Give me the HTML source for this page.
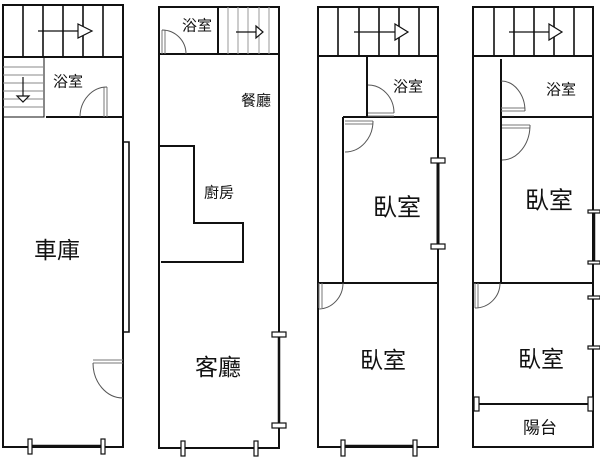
<!DOCTYPE html>
<html><head><meta charset="utf-8"><style>
html,body{margin:0;padding:0;background:#fff;width:600px;height:476px;overflow:hidden}
svg{display:block}
text{font-family:"Liberation Sans","Noto Sans CJK TC",sans-serif;fill:#111;text-anchor:middle;dominant-baseline:central}
.lf{stroke:#777;stroke-width:1}
</style></head><body>
<svg width="600" height="476" viewBox="0 0 600 476" xmlns="http://www.w3.org/2000/svg">
<g fill="none" stroke="#111" stroke-width="2">
<!-- PLAN 1 -->
<path d="M3 5 H123 V447 H3 Z"/>
<path d="M3 57 H123"/>
<path d="M23 5V57 M43 5V57 M63 5V57 M83 5V57 M103 5V57" stroke-width="1.6"/>
<path d="M3 117 H44 V57" stroke-width="1"/>
<path d="M46 117 H123"/>
<path d="M123 142 H129 V332 H123" stroke-width="1.6"/>
<path d="M30 446 H103" stroke-width="2.5"/>
</g>
<g fill="none" stroke="#888" stroke-width="1">
<path d="M3 67 H44 M3 75 H44 M3 83 H44 M3 91 H44 M3 99 H44 M3 107 H44"/>
</g>
<g fill="none" stroke="#111" stroke-width="1.2">
<path d="M38 31 H80"/><path d="M78 24 L92 31 L78 38 Z" fill="#fff"/>
<path d="M23 77 V101"/><path d="M17 96 L23 102 L29 96 Z" fill="#fff"/>
<path class="lf" d="M107 87 V117 M104 87 V117"/><path d="M80 117 A27 30 0 0 1 107 87" stroke="#555" stroke-width="1"/>
<path class="lf" d="M93 363 H123 M93 360 H123"/><path d="M93 363 A30 35 0 0 0 123 398" stroke="#555" stroke-width="1"/>
<rect x="28" y="439" width="4" height="15" fill="#fff"/><rect x="101" y="439" width="4" height="15" fill="#fff"/>
</g>
<text x="68" y="82" font-size="15">浴室</text>
<text x="57" y="250" font-size="23">車庫</text>

<!-- PLAN 2 -->
<g fill="none" stroke="#111" stroke-width="2">
<path d="M159 7 H279 V448 H159 Z"/>
<path d="M159 54 H279"/>
<path d="M218 7 V54"/>
<path d="M159 146 H194 V223 H243 V262 H161"/>
<path d="M279 335 V426" stroke-width="2.5"/>
</g>
<g fill="none" stroke="#999" stroke-width="1">
<path d="M228 7V54 M238 7V54 M248 7V54 M259 7V54 M269 7V54"/>
</g>
<g fill="none" stroke="#111" stroke-width="1.2">
<path d="M236 32 H257"/><path d="M256 26 L263 32 L256 38 Z" fill="#fff"/>
<path class="lf" d="M162 30 V54 M165 30 V54"/><path d="M162 30 A24 24 0 0 1 186 54" stroke="#555" stroke-width="1"/>
<rect x="272" y="332" width="14" height="5" fill="#fff"/><rect x="272" y="423" width="14" height="5" fill="#fff"/>
<rect x="181" y="441" width="4" height="15" fill="#fff"/><rect x="254" y="441" width="4" height="15" fill="#fff"/>
</g>
<text x="197" y="26" font-size="15">浴室</text>
<text x="256" y="101" font-size="15">餐廳</text>
<text x="219" y="193" font-size="15">廚房</text>
<text x="218" y="367" font-size="23">客廳</text>

<!-- PLAN 3 -->
<g fill="none" stroke="#111" stroke-width="2">
<path d="M318 7 H438 V447 H318 Z"/>
<path d="M318 56 H438"/>
<path d="M338 7V56 M359 7V56 M379 7V56 M399 7V56 M419 7V56" stroke-width="1.6"/>
<path d="M367 56 V117"/>
<path d="M343 117 H438 M343 117 V283"/>
<path d="M318 283 H438"/>
<path d="M438 160 V247" stroke-width="3"/>
<path d="M343 446 H415" stroke-width="2.5"/>
</g>
<g fill="none" stroke="#111" stroke-width="1.2">
<path d="M354 32 H396"/><path d="M395 24 L408 32 L395 40 Z" fill="#fff"/>
<path class="lf" d="M368 113 H394 M368 116 H394"/><path d="M368 85 A26 28 0 0 1 394 113" stroke="#555" stroke-width="1"/>
<path class="lf" d="M345 121 H373 M345 124 H373"/><path d="M373 121 A28 31 0 0 1 345 152" stroke="#555" stroke-width="1"/>
<path class="lf" d="M319 283 V308 M322 283 V308"/><path d="M343 283 A25 26 0 0 1 319 309" stroke="#555" stroke-width="1"/>
<rect x="431" y="158" width="14" height="5" fill="#fff"/><rect x="431" y="244" width="14" height="5" fill="#fff"/>
<rect x="341" y="440" width="4" height="16" fill="#fff"/><rect x="413" y="440" width="4" height="16" fill="#fff"/>
</g>
<text x="408" y="87" font-size="15">浴室</text>
<text x="397" y="208" font-size="24">臥室</text>
<text x="383" y="360" font-size="23">臥室</text>

<!-- PLAN 4 -->
<g fill="none" stroke="#111" stroke-width="2">
<path d="M473 7 H593 V447 H473 Z"/>
<path d="M473 56 H593"/>
<path d="M494 7V56 M514 7V56 M534 7V56 M554 7V56 M574 7V56" stroke-width="1.6"/>
<path d="M501 59 V117 M501 117 H593 M501 117 V283"/>
<path d="M473 283 H593"/>
<path d="M478 404 H589"/>
<path d="M594 212 V262" stroke-width="2.5"/>
</g>
<g fill="none" stroke="#111" stroke-width="1.2">
<path d="M509 32 H550"/><path d="M549 24 L562 32 L549 40 Z" fill="#fff"/>
<path class="lf" d="M501 111 H525 M501 108 H525"/><path d="M501 81 A24 30 0 0 1 525 111" stroke="#555" stroke-width="1"/>
<path class="lf" d="M502 125 H530 M502 128 H530"/><path d="M530 125 A28 35 0 0 1 502 160" stroke="#555" stroke-width="1"/>
<path class="lf" d="M475 283 V308 M478 283 V308"/><path d="M500 283 A25 25 0 0 1 475 308" stroke="#555" stroke-width="1"/>
<rect x="474" y="397" width="5" height="14" fill="#fff"/><rect x="588" y="397" width="5" height="14" fill="#fff"/>
<rect x="588" y="210" width="12" height="3" fill="#fff"/><rect x="588" y="261" width="12" height="3" fill="#fff"/>
<rect x="588" y="296" width="12" height="3" fill="#fff"/><rect x="588" y="346" width="12" height="3" fill="#fff"/>
</g>
<text x="561" y="90" font-size="15">浴室</text>
<text x="549" y="201" font-size="24">臥室</text>
<text x="541" y="359" font-size="23">臥室</text>
<text x="540" y="428" font-size="17">陽台</text>
</svg>
</body></html>
